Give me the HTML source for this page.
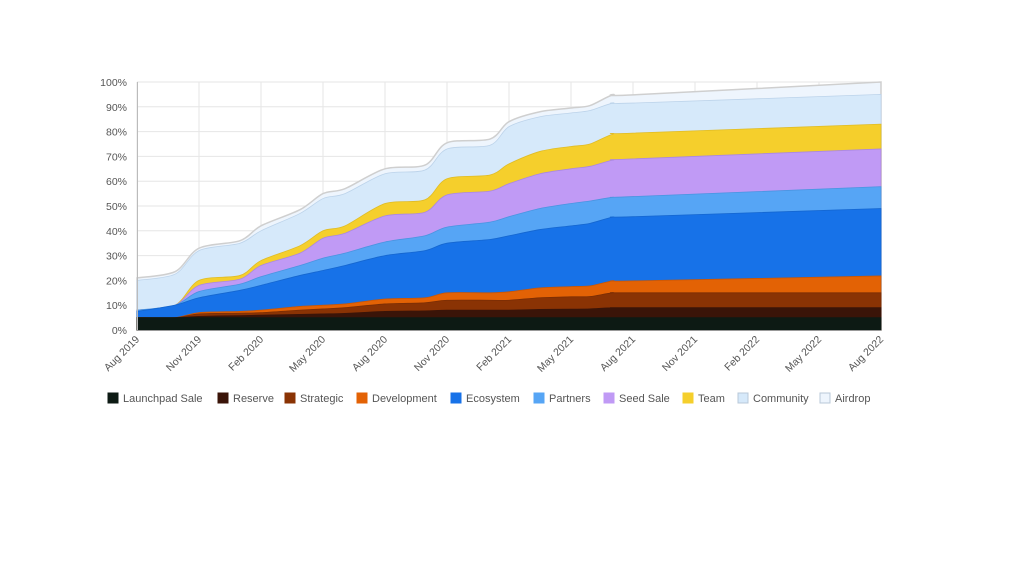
<!DOCTYPE html>
<html><head><meta charset="utf-8"><style>
html,body{margin:0;padding:0;background:#fff;}
svg{display:block;font-family:"Liberation Sans",sans-serif;}
</style></head><body>
<svg id="s" width="1024" height="576" viewBox="0 0 1024 576" xmlns="http://www.w3.org/2000/svg">
<g id="grid" stroke="#e6e6e6" stroke-width="1"></g>
<g id="areas"></g>
<line x1="137" y1="330.5" x2="881" y2="330.5" stroke="#999" stroke-width="1"/>
<line x1="137.5" y1="82" x2="137.5" y2="330" stroke="#bbb" stroke-width="1"/>
<g id="ylab" font-size="10.5" fill="#555" text-anchor="end"></g>
<g id="xlab" font-size="10.5" fill="#555" text-anchor="end"></g>
<g id="leg" font-size="11" fill="#555"></g>
</svg>
<script>
var NS="http://www.w3.org/2000/svg";
function el(t,a,p,txt){var e=document.createElementNS(NS,t);for(var k in a)e.setAttribute(k,a[k]);if(txt)e.textContent=txt;document.getElementById(p).appendChild(e);return e;}
function Y(p){return 330-p*2.48;}
for(var i=0;i<=10;i++){var y=Y(i*10);el('line',{x1:137,x2:881,y1:y,y2:y},'grid');el('text',{x:127,y:y+4},'ylab',(i*10)+'%');}
var xl=['Aug 2019','Nov 2019','Feb 2020','May 2020','Aug 2020','Nov 2020','Feb 2021','May 2021','Aug 2021','Nov 2021','Feb 2022','May 2022','Aug 2022'];
for(var i=0;i<13;i++){var x=137+i*62;el('line',{x1:x,x2:x,y1:82,y2:330},'grid');el('text',{x:x+3,y:340,transform:'rotate(-45 '+(x+3)+' 340)'},'xlab',xl[i]);}
var D=[[137,[5,5,5,5,7.5,8,8,8,20,21]],[175,[5,5,5,5,10,10,10,10,22.5,23.5]],[199,[5,5.5,6.5,7,13,15.5,18,20,32,33]],[240,[5,5.8,6.8,7.5,16,18.5,20.5,22,35,36]],[261,[5,6,7,8,18,21.5,26,28,40,42]],[300,[5,6.3,8,9.5,22,26,31,34,47,48.5]],[323,[5,6.5,8.5,10,24,29,37,40,53,55]],[345,[5,6.7,9,10.5,26,31,39,42,55,57]],[385,[5,7.5,10.5,12.5,30,35.5,46,51,63,65]],[425,[5,7.7,11,13,32,38,47.5,52.5,64.5,66.5]],[447,[5,8,12,15,35,41.5,54.5,61,73,75.5]],[490,[5,8,12,15,36.5,43.5,56,62.5,74.5,77]],[509,[5,8,12,15.4,38,45.7,59,67,82,84]],[540,[5,8.3,13,17,40.5,49,63,72,86,88]],[571,[5,8.4,13.4,17.5,42,51,65,74,87.5,89.5]],[590,[5,8.5,13.5,17.8,43,52,66,75,88.5,90.5]],[613,[5,9,15,19.8,45.5,53.5,68.5,79,91.5,94.8]],[633,[5,9,15,19.8,45.7,53.8,69,79.4,91.5,94.8]],[881,[5,9,15,21.8,49,57.8,73,83,95,100]]];
var C=['#0d1a14','#3a1408','#8a3304','#e36205','#1772e8','#56a5f5','#c09af5','#f5cf2c','#d6e9fa','#eef5fd'];
var S=['#0d1a14','#3a1408','#7a2d04','#c95605','#1466d0','#4a94e0','#aa88e0','#e0bc25','#bcd3ea','#cfcfcf'];
function curve(pts){var d='';for(var i=0;i<pts.length-1;i++){var p0=pts[Math.max(0,i-1)],p1=pts[i],p2=pts[i+1],p3=pts[Math.min(pts.length-1,i+2)];var t=0.15;var c1=[p1[0]+(p2[0]-p0[0])*t,p1[1]+(p2[1]-p0[1])*t],c2=[p2[0]-(p3[0]-p1[0])*t,p2[1]-(p3[1]-p1[1])*t];d+=' C'+c1[0]+','+c1[1]+' '+c2[0]+','+c2[1]+' '+p2[0]+','+p2[1];}return d;}
for(var L=9;L>=0;L--){var pts=D.map(function(r){return [r[0],Y(r[1][L])];});
var d='M137,330 L'+pts[0][0]+','+pts[0][1]+curve(pts)+' L881,330 Z';
el('path',{d:d,fill:C[L],stroke:S[L],'stroke-width':L==9?1.5:0.8},'areas');}
var names=['Launchpad Sale','Reserve','Strategic','Development','Ecosystem','Partners','Seed Sale','Team','Community','Airdrop'];
var lx=[108,218,285,357,451,534,604,683,738,820];
for(var i=0;i<10;i++){el('rect',{x:lx[i],y:393,width:10,height:10,fill:C[i],stroke:i>=8?'#b8c8d8':C[i]},'leg');el('text',{x:lx[i]+15,y:402},'leg',names[i]);}
</script>
</body></html>
